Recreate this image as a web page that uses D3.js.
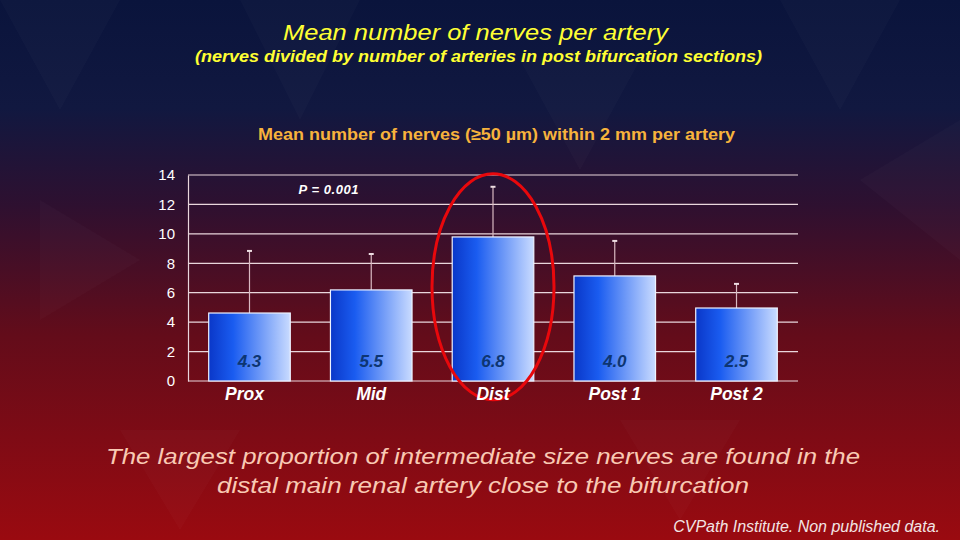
<!DOCTYPE html>
<html>
<head>
  <meta charset="utf-8">
  <title>Mean number of nerves per artery</title>
  <script src="https://d3js.org/d3.v7.min.js"></script>
  <style>
    body {
      margin: 0;
      padding: 0;
      background: #000;
    }
    svg text {
      font-family: "Liberation Sans", Arial, sans-serif;
    }
  </style>
</head>
<body>
  <div id="chart"></div>
  <script>
    // data
    var categories = ["Prox", "Mid", "Dist", "Post 1", "Post 2"]
    var means = [4.62, 6.19, 9.79, 7.14, 4.96]
    var errUpper = [8.84, 8.63, 13.2, 9.52, 6.6]
    var barLabels = ["4.3", "5.5", "6.8", "4.0", "2.5"]
    var yTicks = [0, 2, 4, 6, 8, 10, 12, 14]

    var W = 960, H = 540
    var margin = { top: 175, right: 162, bottom: 159, left: 188 }
    var width = W - margin.left - margin.right
    var height = H - margin.top - margin.bottom

    var svg = d3.select("#chart").append("svg")
      .attr("width", W)
      .attr("height", H)

    var defs = svg.append("defs")

    // background: navy at top to red at bottom
    var bg = defs.append("linearGradient")
      .attr("id", "bg").attr("x1", 0).attr("y1", 0).attr("x2", 0).attr("y2", 1)
    bg.append("stop").attr("offset", "0%").attr("stop-color", "#0a143c")
    bg.append("stop").attr("offset", "20%").attr("stop-color", "#111840")
    bg.append("stop").attr("offset", "38%").attr("stop-color", "#2e1030")
    bg.append("stop").attr("offset", "62%").attr("stop-color", "#630c1a")
    bg.append("stop").attr("offset", "100%").attr("stop-color", "#9a0a10")

    var barGrad = defs.append("linearGradient")
      .attr("id", "bar").attr("x1", 0).attr("y1", 0).attr("x2", 1).attr("y2", 0)
    barGrad.append("stop").attr("offset", "0%").attr("stop-color", "#0a37c8")
    barGrad.append("stop").attr("offset", "30%").attr("stop-color", "#1a5cf0")
    barGrad.append("stop").attr("offset", "100%").attr("stop-color", "#c9dbff")

    svg.append("rect").attr("width", W).attr("height", H).attr("fill", "url(#bg)")

    // faint triangle pattern in the background
    var tri = svg.append("g").attr("fill", "#ffffff")
    var triPts = [
      [[0, 0], [120, 0], [60, 110]], [[240, 0], [360, 0], [300, 120]],
      [[520, 60], [640, 60], [580, 170]], [[780, 0], [900, 0], [840, 110]],
      [[860, 180], [960, 120], [960, 260]], [[40, 200], [140, 260], [40, 320]],
      [[620, 420], [740, 420], [680, 520]], [[120, 430], [240, 430], [180, 530]]
    ]
    tri.selectAll("polygon").data(triPts).join("polygon")
      .attr("points", function (d) { return d.map(function (p) { return p.join(",") }).join(" ") })
      .attr("opacity", 0.018)

    // titles
    svg.append("text").attr("x", 283).attr("y", 40)
      .attr("fill", "#ffff33").attr("font-size", 21.5).attr("font-style", "italic")
      .attr("textLength", 385).attr("lengthAdjust", "spacingAndGlyphs")
      .text("Mean number of nerves per artery")
    svg.append("text").attr("x", 195).attr("y", 62)
      .attr("fill", "#ffff33").attr("font-size", 16).attr("font-style", "italic").attr("font-weight", "bold")
      .attr("textLength", 567).attr("lengthAdjust", "spacingAndGlyphs")
      .text("(nerves divided by number of arteries in post bifurcation sections)")
    svg.append("text").attr("x", 258).attr("y", 140)
      .attr("fill", "#f7b33c").attr("font-size", 16.5).attr("font-weight", "bold")
      .attr("textLength", 477).attr("lengthAdjust", "spacingAndGlyphs")
      .text("Mean number of nerves (\u226550 \u00b5m) within 2 mm per artery")

    var g = svg.append("g").attr("transform", "translate(" + margin.left + "," + margin.top + ")")

    var x = d3.scaleBand().domain(categories).range([0, width]).paddingInner(0.33).paddingOuter(0.17)
    var y = d3.scaleLinear().domain([0, 14]).range([height, 0])

    // gridlines
    g.selectAll(".grid").data(yTicks).join("line")
      .attr("x1", 0).attr("x2", width)
      .attr("y1", function (d) { return y(d) }).attr("y2", function (d) { return y(d) })
      .attr("stroke", "#e9d6dc").attr("stroke-width", 1.2)

    var yAxis = g.append("g").call(d3.axisLeft(y).tickValues(yTicks).tickSize(0).tickPadding(13))
    yAxis.select(".domain").attr("stroke", "#e9d6dc").attr("stroke-width", 1.2)
    yAxis.selectAll("text").attr("fill", "#ffffff").attr("font-size", 15)
      .attr("font-family", "Liberation Sans, Arial, sans-serif")

    // error bars (upper only)
    var eb = g.selectAll(".err").data(categories).join("g")
    eb.append("line")
      .attr("x1", function (d) { return x(d) + x.bandwidth() / 2 })
      .attr("x2", function (d) { return x(d) + x.bandwidth() / 2 })
      .attr("y1", function (d, i) { return y(means[i]) })
      .attr("y2", function (d, i) { return y(errUpper[i]) })
      .attr("stroke", "#d9b9c2").attr("stroke-width", 1.2)
    eb.append("line")
      .attr("x1", function (d) { return x(d) + x.bandwidth() / 2 - 2.5 })
      .attr("x2", function (d) { return x(d) + x.bandwidth() / 2 + 2.5 })
      .attr("y1", function (d, i) { return y(errUpper[i]) })
      .attr("y2", function (d, i) { return y(errUpper[i]) })
      .attr("stroke", "#eddde2").attr("stroke-width", 2)

    // bars
    g.selectAll(".bar").data(categories).join("rect")
      .attr("x", function (d) { return x(d) })
      .attr("width", x.bandwidth())
      .attr("y", function (d, i) { return y(means[i]) })
      .attr("height", function (d, i) { return y(0) - y(means[i]) })
      .attr("fill", "url(#bar)")
      .attr("stroke", "#eef2ff").attr("stroke-width", 1.2)

    // values printed inside the bars
    g.selectAll(".val").data(categories).join("text")
      .attr("x", function (d) { return x(d) + x.bandwidth() / 2 })
      .attr("y", y(0) - 14)
      .attr("text-anchor", "middle")
      .attr("fill", "#0d3572").attr("font-size", 17).attr("font-style", "italic").attr("font-weight", "bold")
      .text(function (d, i) { return barLabels[i] })

    // p value
    g.append("text").attr("x", x("Mid") - 32).attr("y", y(13) + 4)
      .attr("fill", "#ffffff").attr("font-size", 13).attr("font-style", "italic").attr("font-weight", "bold")
      .attr("textLength", 60).attr("lengthAdjust", "spacing")
      .text("P = 0.001")

    // red ellipse around Dist
    g.append("ellipse")
      .attr("cx", x("Dist") + x.bandwidth() / 2)
      .attr("cy", y(6.4))
      .attr("rx", 61).attr("ry", 113)
      .attr("fill", "none").attr("stroke", "#e8080c").attr("stroke-width", 3)

    // category labels (on top of the ellipse)
    g.selectAll(".cat").data(categories).join("text")
      .attr("x", function (d) { return x(d) + x.bandwidth() / 2 - (d == "Prox" ? 5 : 0) })
      .attr("y", y(0) + 19)
      .attr("text-anchor", "middle")
      .attr("fill", "#ffffff").attr("font-size", 17.5).attr("font-style", "italic").attr("font-weight", "bold")
      .text(function (d) { return d })

    // footnote text
    svg.append("text").attr("x", 106).attr("y", 464)
      .attr("fill", "#f9c9b3").attr("font-size", 22).attr("font-style", "italic")
      .attr("textLength", 754).attr("lengthAdjust", "spacingAndGlyphs")
      .text("The largest proportion of intermediate size nerves are found in the")
    svg.append("text").attr("x", 217).attr("y", 493)
      .attr("fill", "#f9c9b3").attr("font-size", 22).attr("font-style", "italic")
      .attr("textLength", 532).attr("lengthAdjust", "spacingAndGlyphs")
      .text("distal main renal artery close to the bifurcation")
    svg.append("text").attr("x", 940).attr("y", 532).attr("text-anchor", "end")
      .attr("fill", "#f2e4e4").attr("font-size", 16).attr("font-style", "italic")
      .attr("font-family", "Liberation Sans Narrow, Liberation Sans, sans-serif")
      .text("CVPath Institute. Non published data.")
  </script>
</body>
</html>
